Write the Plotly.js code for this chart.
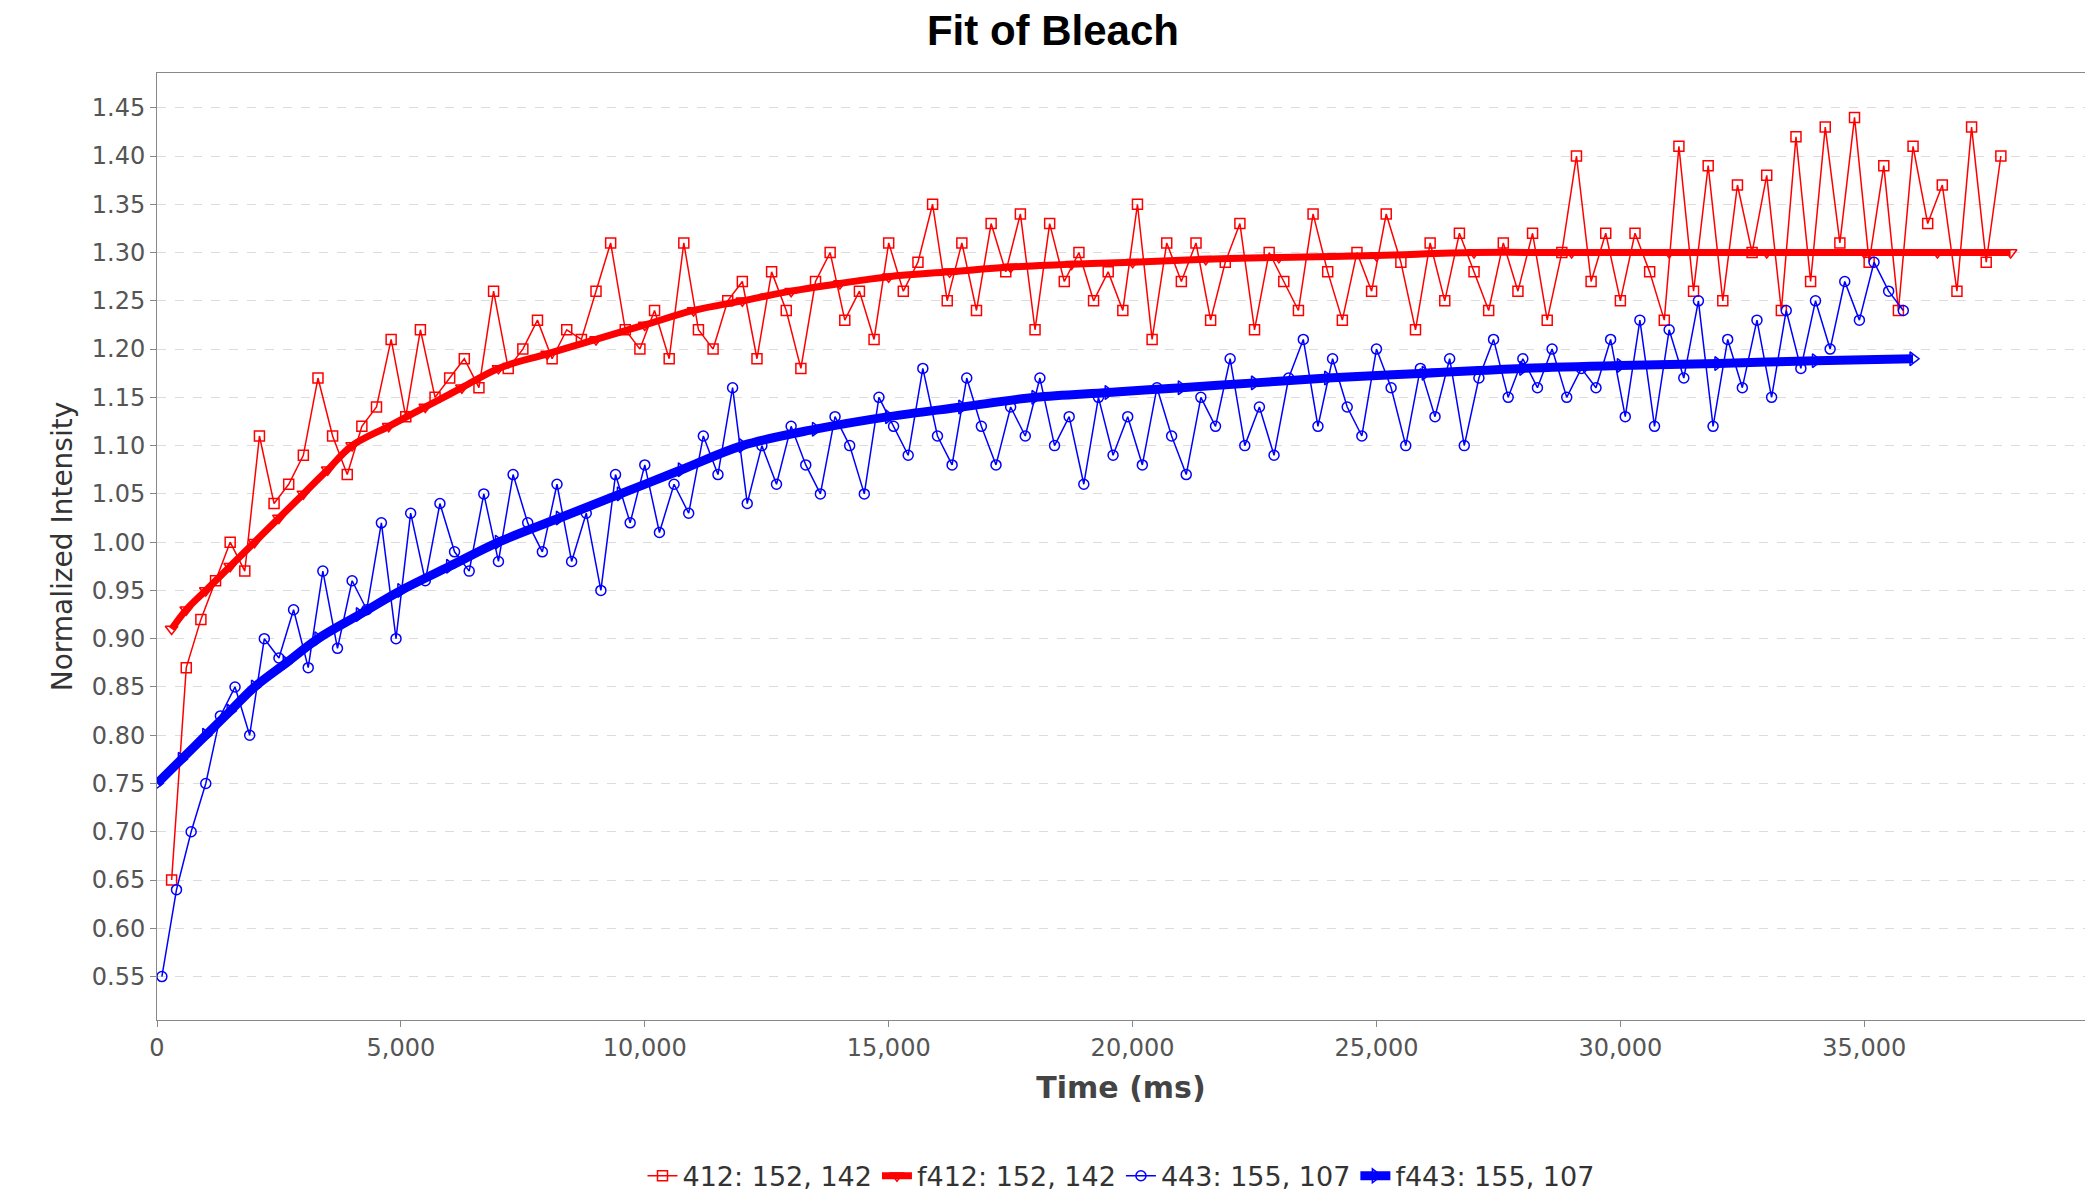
<!DOCTYPE html>
<html>
<head>
<meta charset="utf-8">
<script src="https://cdn.plot.ly/plotly-3.0.1.min.js"></script>
<style>html,body{margin:0;padding:0;background:#fff}#chart{width:2085px;height:1203px}</style>
</head>
<body>
<div id="chart"></div>
<script>
// raw recovery, 412 (sampled every 300 ms from 300 ms)
var t412Start = 300, t412Step = 300;
var y412 = [0.65,0.87,0.92,0.96,1.00,0.97,1.11,1.04,1.06,1.09,1.17,1.11,1.07,1.12,1.14,1.21,1.13,1.22,1.15,1.17,
  1.19,1.16,1.26,1.18,1.20,1.23,1.19,1.22,1.21,1.26,1.31,1.22,1.20,1.24,1.19,1.31,1.22,1.20,1.25,1.27,
  1.19,1.28,1.24,1.18,1.27,1.30,1.23,1.26,1.21,1.31,1.26,1.29,1.35,1.25,1.31,1.24,1.33,1.28,1.34,1.22,
  1.33,1.27,1.30,1.25,1.28,1.24,1.35,1.21,1.31,1.27,1.31,1.23,1.29,1.33,1.22,1.30,1.27,1.24,1.34,1.28,
  1.23,1.30,1.26,1.34,1.29,1.22,1.31,1.25,1.32,1.28,1.24,1.31,1.26,1.32,1.23,1.30,1.40,1.27,1.32,1.25,
  1.32,1.28,1.23,1.41,1.26,1.39,1.25,1.37,1.30,1.38,1.24,1.42,1.27,1.43,1.31,1.44,1.29,1.39,1.24,1.41,
  1.33,1.37,1.26,1.43,1.29,1.40];
// raw recovery, 443 (every 300 ms from 100 ms)
var t443Start = 100, t443Step = 300;
var y443 = [0.55,0.64,0.70,0.75,0.82,0.85,0.80,0.90,0.88,0.93,0.87,0.97,0.89,0.96,0.93,1.02,0.90,1.03,0.96,1.04,
  0.99,0.97,1.05,0.98,1.07,1.02,0.99,1.06,0.98,1.03,0.95,1.07,1.02,1.08,1.01,1.06,1.03,1.11,1.07,1.16,
  1.04,1.10,1.06,1.12,1.08,1.05,1.13,1.10,1.05,1.15,1.12,1.09,1.18,1.11,1.08,1.17,1.12,1.08,1.14,1.11,
  1.17,1.10,1.13,1.06,1.15,1.09,1.13,1.08,1.16,1.11,1.07,1.15,1.12,1.19,1.10,1.14,1.09,1.17,1.21,1.12,
  1.19,1.14,1.11,1.20,1.16,1.10,1.18,1.13,1.19,1.10,1.17,1.21,1.15,1.19,1.16,1.20,1.15,1.18,1.16,1.21,
  1.13,1.23,1.12,1.22,1.17,1.25,1.12,1.21,1.16,1.23,1.15,1.24,1.18,1.25,1.20,1.27,1.23,1.29,1.26,1.24];
// fitted curves
var tFit412 = [300,600,1000,1500,2000,2500,3000,3500,4000,4750,5500,6250,7000,8000,9000,10000,11000,12000,13000,14000,15000,16250,17500,18750,20000,21500,23000,25000,27000,29000,31000,33000,35000,36500,38000];
var yFit412 = [0.91,0.93,0.95,0.975,1.00,1.025,1.05,1.075,1.10,1.12,1.14,1.16,1.18,1.195,1.21,1.225,1.24,1.25,1.26,1.268,1.275,1.28,1.285,1.288,1.29,1.293,1.295,1.297,1.30,1.30,1.30,1.30,1.30,1.30,1.30];
var tFit443 = [0,500,1000,1500,2000,2650,3300,4150,5000,6000,7000,8250,9500,10750,12000,13500,15000,16500,18000,19500,21000,22500,24000,26000,28000,30000,32000,34000,36000];
var yFit443 = [0.75,0.775,0.80,0.825,0.85,0.875,0.90,0.925,0.95,0.975,1.00,1.025,1.05,1.075,1.10,1.117,1.13,1.14,1.15,1.155,1.16,1.165,1.17,1.175,1.18,1.183,1.185,1.188,1.19];

function times(start, step, n) { var a = []; for (var i = 0; i < n; i++) a.push(start + i * step); return a; }

var red = '#ff0000', blue = '#0000ff';
var data = [
  {x: times(t412Start, t412Step, y412.length), y: y412, name: '412: 152, 142', mode: 'lines+markers',
   line: {color: red, width: 1.5}, marker: {symbol: 'square-open', size: 10, color: red, line: {width: 1.5}}},
  {x: tFit412, y: yFit412, name: 'f412: 152, 142', mode: 'lines+markers', line: {color: red, width: 7, shape: 'spline'},
   marker: {symbol: 'triangle-down-open', size: 11, color: red, line: {width: 1.5}}},
  {x: times(t443Start, t443Step, y443.length), y: y443, name: '443: 155, 107', mode: 'lines+markers',
   line: {color: blue, width: 1.5}, marker: {symbol: 'circle-open', size: 10, color: blue, line: {width: 1.5}}},
  {x: tFit443, y: yFit443, name: 'f443: 155, 107', mode: 'lines+markers', line: {color: blue, width: 9, shape: 'spline'},
   marker: {symbol: 'triangle-right-open', size: 12, color: blue, line: {width: 1.5}}}
];

var layout = {
  width: 2085, height: 1203,
  paper_bgcolor: '#ffffff', plot_bgcolor: '#ffffff',
  margin: {l: 157, r: 0, t: 73, b: 183},
  font: {family: 'DejaVu Sans, sans-serif', color: '#555', size: 24},
  title: {text: '<b>Fit of Bleach</b>', x: 0.505, xanchor: 'center', y: 0.975, yanchor: 'middle',
    font: {family: 'Liberation Sans', size: 42, color: '#000'}},
  xaxis: {range: [0, 39525], tickvals: [0,5000,10000,15000,20000,25000,30000,35000], tickformat: ',d',
    showgrid: false, zeroline: false, showline: true, linecolor: '#888', mirror: true, ticks: 'outside',
    ticklen: 6, tickcolor: '#888', title: {text: '<b>Time (ms)</b>', font: {size: 30, color: '#444'}, standoff: 16}},
  yaxis: {range: [0.505, 1.486], dtick: 0.05, tick0: 0.55, tickformat: '.2f', showgrid: true, gridcolor: '#dcdcdc',
    griddash: 'dash', zeroline: false, showline: true, linecolor: '#888', mirror: true, ticks: 'outside', ticklen: 6,
    tickcolor: '#888', title: {text: 'Normalized Intensity', font: {size: 28, color: '#333'}, standoff: 10}},
  showlegend: true,
  legend: {orientation: 'h', x: 0.5, xanchor: 'center', y: -0.165, yanchor: 'middle', font: {size: 27, color: '#333'},
    itemwidth: 30}
};

Plotly.newPlot('chart', data, layout, {displayModeBar: false});
</script>
</body>
</html>
